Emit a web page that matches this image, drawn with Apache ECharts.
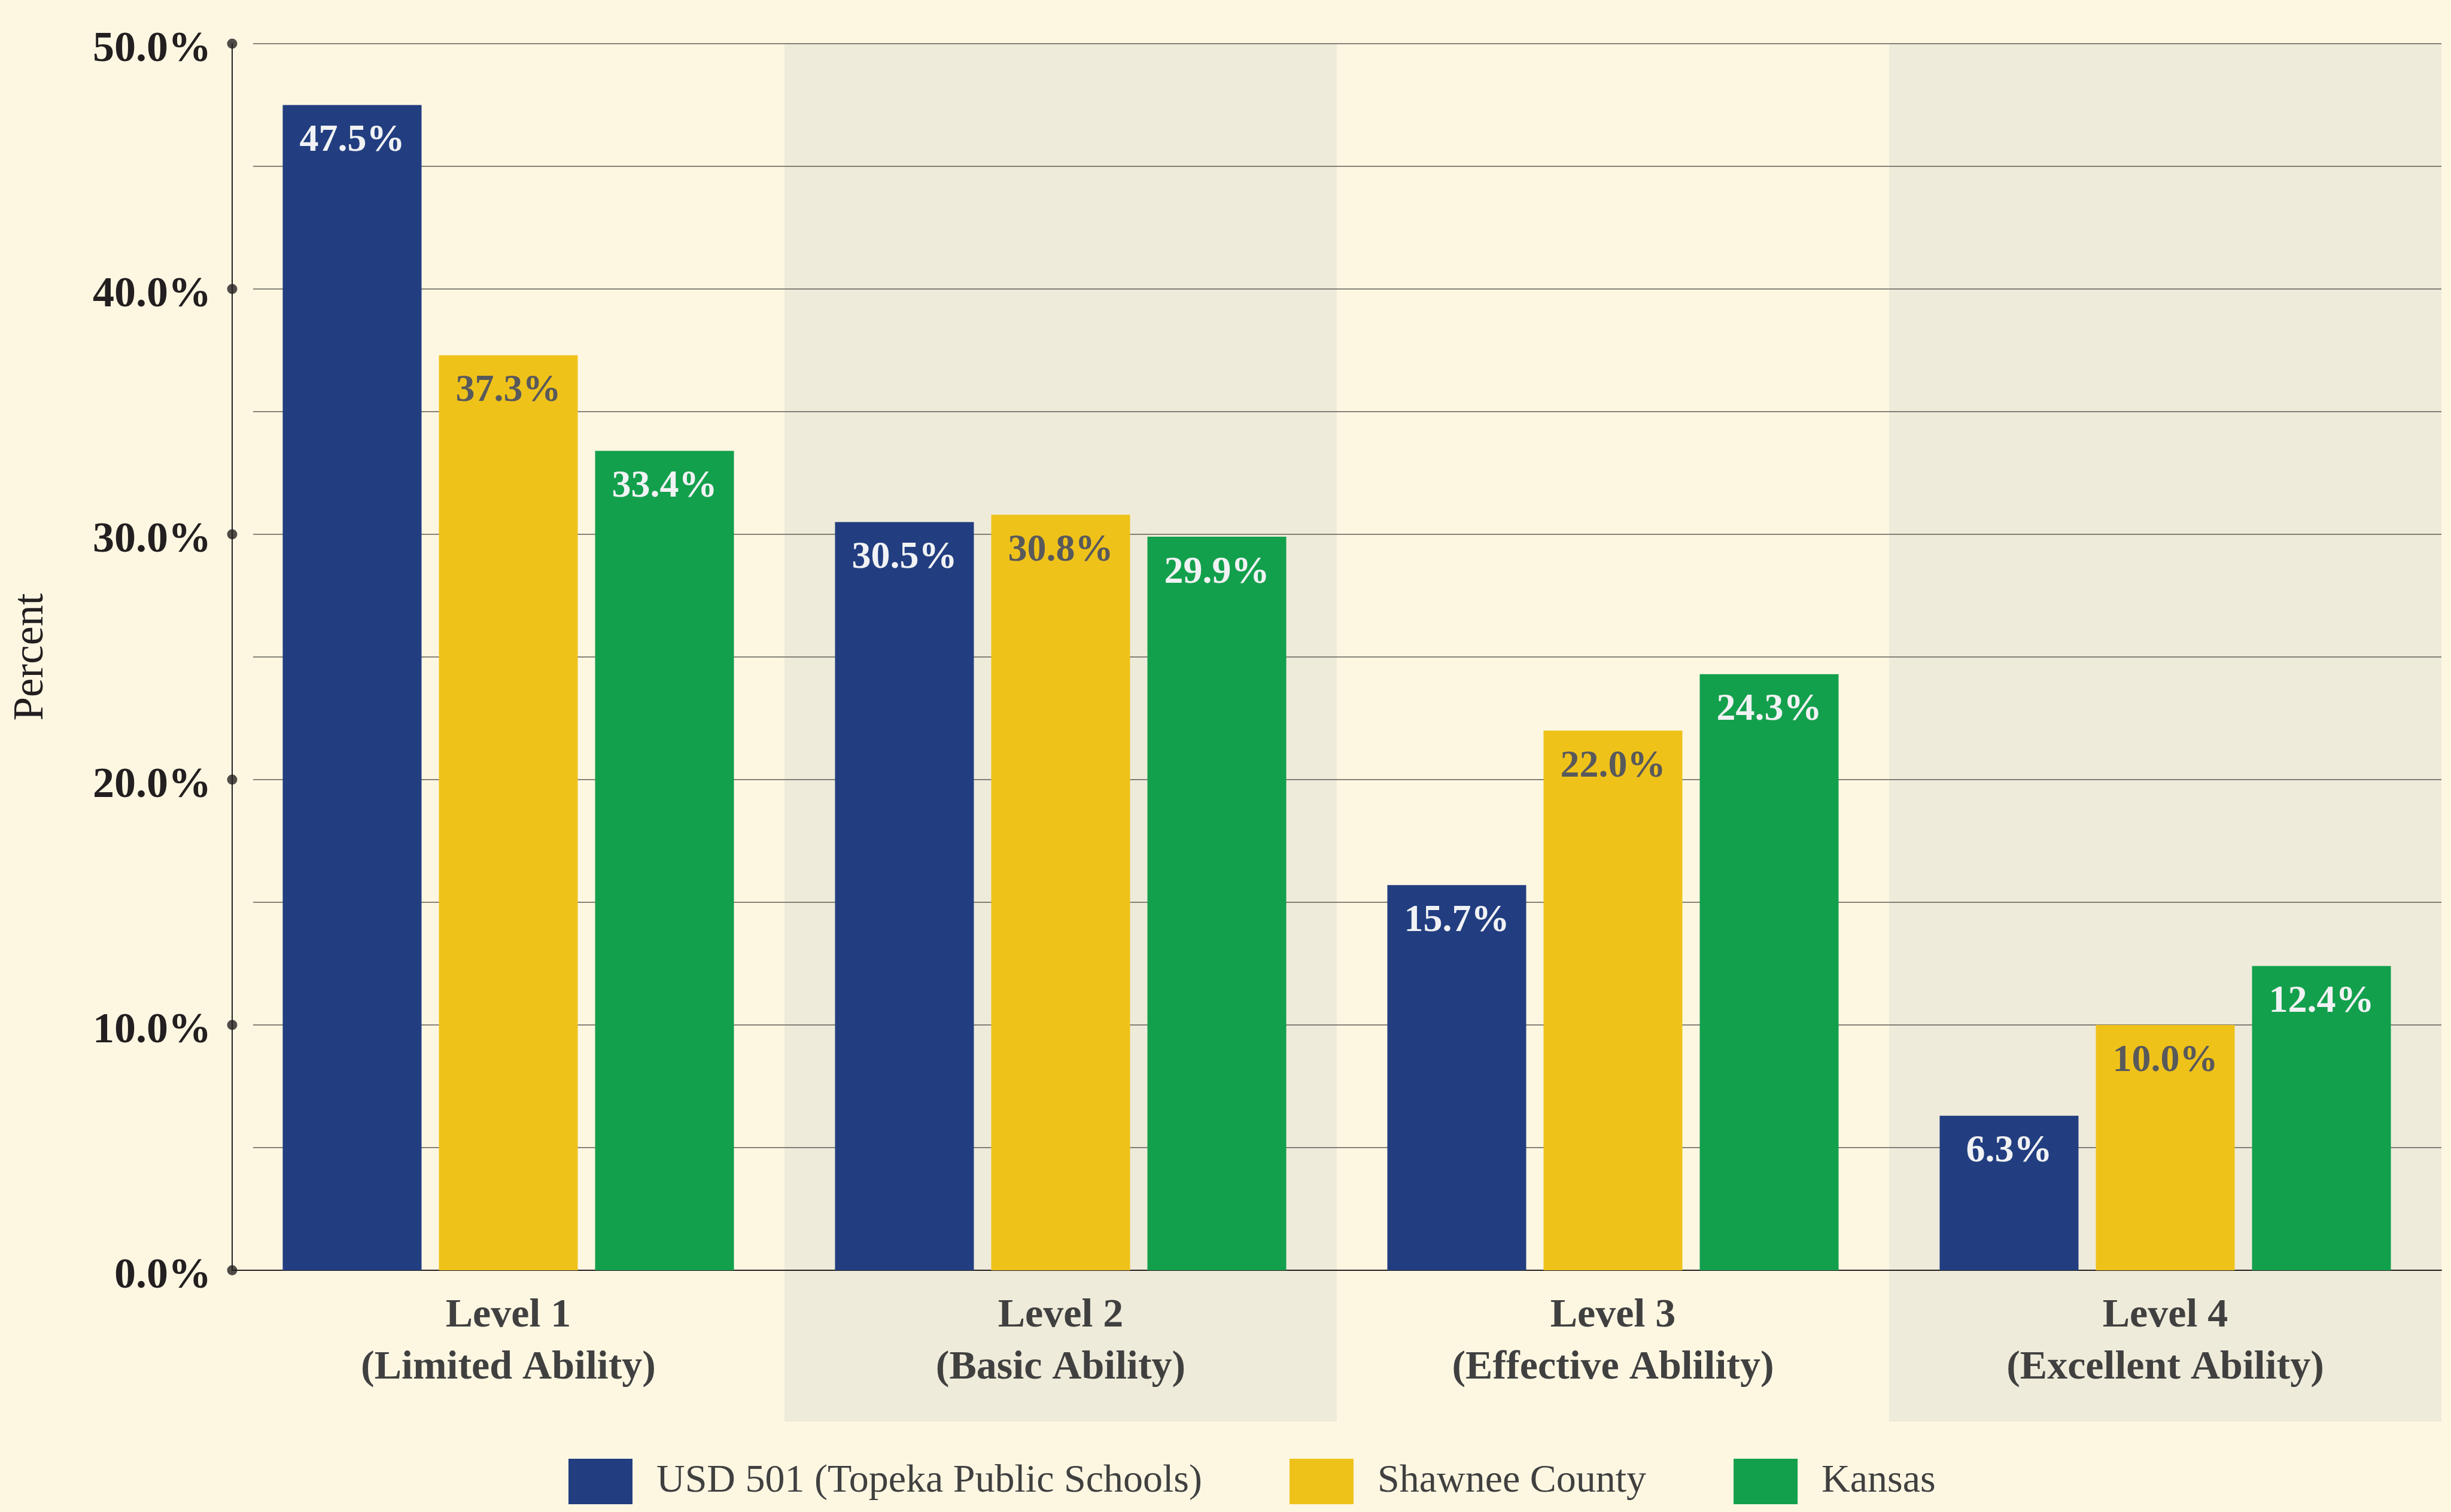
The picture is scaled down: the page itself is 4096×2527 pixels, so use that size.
<!DOCTYPE html>
<html>
<head>
<meta charset="utf-8">
<script src="https://cdn.jsdelivr.net/npm/echarts@6/dist/echarts.min.js"></script>
<style>
  html, body { margin: 0; padding: 0; background: #FDF7E2; }
  #chart { width: 4096px; height: 2527px; }
</style>
</head>
<body>
<div id="chart"></div>
<script>
// data
var categories = ['Level 1\n(Limited Ability)', 'Level 2\n(Basic Ability)', 'Level 3\n(Effective Ablility)', 'Level 4\n(Excellent Ability)'];
var seriesNames = ['USD 501 (Topeka Public Schools)', 'Shawnee County', 'Kansas'];
var usd501 = [47.5, 30.5, 15.7, 6.3];
var shawnee = [37.3, 30.8, 22.0, 10.0];
var kansas = [33.4, 29.9, 24.3, 12.4];
var yTicks = [0, 10, 20, 30, 40, 50];

var colors = ['#223E80', '#EFC21A', '#13A04C'];
var labelColors = ['#F1F2F4', '#58595B', '#F1F2F4'];
var serif = "'Liberation Serif', 'Times New Roman', serif";

var L = 388, R = 16, T = 73, B = 404;

function barSeries(i, data) {
  return {
    name: seriesNames[i],
    type: 'bar',
    xAxisIndex: 0,
    yAxisIndex: 0,
    data: data,
    barGap: '12.5%',
    barCategoryGap: '18.3%',
    itemStyle: { color: colors[i] },
    label: {
      show: true,
      position: 'insideTop',
      distance: 28,
      color: labelColors[i],
      fontFamily: serif,
      fontWeight: 'bold',
      fontSize: 64,
      formatter: function (p) { return p.value.toFixed(1) + '%'; }
    },
    z: 3
  };
}

var chart = echarts.init(document.getElementById('chart'));
chart.setOption({
  backgroundColor: '#FDF7E2',
  animation: false,
  grid: [
    { left: L, right: R, top: T, bottom: B },
    { left: L, right: R, top: T, bottom: 151 },
    { left: 423, right: R, top: T, bottom: B }
  ],
  legend: {
    data: seriesNames,
    left: 945,
    top: 2433,
    itemWidth: 107,
    itemHeight: 76,
    itemGap: 146,
    icon: 'rect',
    selectedMode: false,
    textStyle: {
      fontFamily: serif,
      fontSize: 66,
      color: '#404040',
      padding: [0, 0, 0, 35]
    }
  },
  xAxis: [
    {
      type: 'category',
      gridIndex: 0,
      data: categories,
      z: 2,
      axisLine: { lineStyle: { color: '#231F20', width: 2 } },
      axisTick: { show: false },
      axisLabel: {
        margin: 33,
        fontFamily: serif,
        fontWeight: 'bold',
        fontSize: 68,
        lineHeight: 87,
        color: '#404040'
      }
    },
    { type: 'value', gridIndex: 0, min: 0, max: 1, show: false },
    {
      type: 'category',
      gridIndex: 1,
      data: categories,
      z: 0,
      axisLine: { show: false },
      axisTick: { show: false },
      axisLabel: { show: false },
      splitArea: { show: true, areaStyle: { color: ['rgba(0,0,0,0)', '#EFEBDA'] } }
    },
    { type: 'category', gridIndex: 2, data: categories, show: false }
  ],
  yAxis: [
    {
      type: 'value',
      gridIndex: 0,
      min: 0,
      max: 50,
      interval: 5,
      z: 2,
      name: 'Percent',
      nameLocation: 'middle',
      nameGap: 300,
      nameTextStyle: { fontFamily: serif, fontSize: 71, color: '#231F20' },
      axisLine: { show: true, lineStyle: { color: '#231F20', width: 2 } },
      axisTick: { show: false },
      splitLine: { show: false },
      axisLabel: {
        margin: 35,
        verticalAlign: 'top',
        lineHeight: 20,
        fontFamily: serif,
        fontWeight: 'bold',
        fontSize: 72,
        color: '#231F20',
        formatter: function (v) { return v % 10 === 0 ? v.toFixed(1) + '%' : ''; }
      }
    },
    { type: 'value', gridIndex: 1, show: false },
    {
      type: 'value',
      gridIndex: 2,
      min: 0,
      max: 50,
      interval: 5,
      z: 1,
      axisLine: { show: false },
      axisTick: { show: false },
      axisLabel: { show: false },
      splitLine: { show: true, lineStyle: { color: '#5E5B55', width: 1.5 } }
    }
  ],
  series: [
    barSeries(0, usd501),
    barSeries(1, shawnee),
    barSeries(2, kansas),
    {
      type: 'scatter',
      xAxisIndex: 1,
      yAxisIndex: 0,
      data: yTicks.map(function (v) { return [0, v]; }),
      symbol: 'circle',
      symbolSize: 17,
      clip: false,
      silent: true,
      itemStyle: { color: '#231F20' },
      z: 4
    }
  ]
});
</script>
</body>
</html>
